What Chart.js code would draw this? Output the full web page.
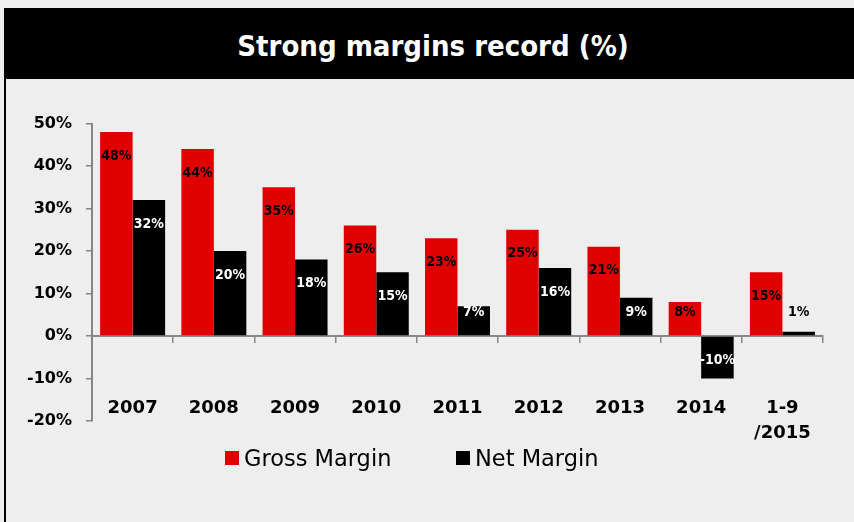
<!DOCTYPE html>
<html>
<head>
<meta charset="utf-8">
<script src="https://cdn.jsdelivr.net/npm/chart.js@4.4.0/dist/chart.umd.min.js"></script>
<style>
  html, body { margin: 0; padding: 0; }
  body {
    width: 854px; height: 522px; background: #eeeeee;
    position: relative; overflow: hidden;
    font-family: "DejaVu Sans", sans-serif;
  }
  #banner {
    position: absolute; left: 4px; top: 8px; right: 0; height: 71px;
    background: #000; color: #fff; text-align: center;
    font-family: "DejaVu Sans Condensed", "DejaVu Sans", sans-serif;
    font-weight: bold; font-size: 29px; line-height: 77px;
    padding-left: 8px; box-sizing: border-box;
  }
  #edge { position: absolute; left: 4px; top: 79px; width: 2px; bottom: 0; background: #000; }
  #wrap { position: absolute; left: 0; top: 80px; width: 854px; height: 442px; }
  #legend {
    position: absolute; left: 225px; top: 445px; display: flex;
    font-size: 22.5px; line-height: 26px; color: #000;
  }
  #legend .item { display: flex; align-items: center; }
  #legend .item:first-child { width: 231px; }
  #legend .sw { width: 14px; height: 14px; margin-right: 5px; }
</style>
</head>
<body>
<div id="banner">Strong margins record (%)</div>
<div id="edge"></div>
<div id="wrap"><canvas id="chart"></canvas></div>
<div id="legend"></div>
<script>
const categories = ['2007', '2008', '2009', '2010', '2011', '2012', '2013', '2014', ['1-9', '/2015']];
const grossMargin = [48, 44, 35, 26, 23, 25, 21, 8, 15];
const netMargin = [32, 20, 18, 15, 7, 16, 9, -10, 1];
const seriesNames = ['Gross Margin', 'Net Margin'];
const seriesColors = ['#e10000', '#000000'];
const axisGray = '#868686';

// legend under the chart
const legendEl = document.getElementById('legend');
seriesNames.forEach((name, i) => {
  const item = document.createElement('div');
  item.className = 'item';
  item.innerHTML = '<span class="sw" style="background:' + seriesColors[i] + '"></span><span>' + name + '</span>';
  legendEl.appendChild(item);
});

// value labels inside the bars
const barLabels = {
  id: 'barLabels',
  afterDatasetsDraw(chart) {
    const ctx = chart.ctx;
    const zero = chart.scales.y.getPixelForValue(0);
    ctx.save();
    ctx.font = 'bold 14px "DejaVu Sans Condensed", "DejaVu Sans"';
    ctx.textAlign = 'center';
    ctx.textBaseline = 'middle';
    chart.data.datasets.forEach((ds, i) => {
      chart.getDatasetMeta(i).data.forEach((bar, j) => {
        const v = ds.data[j];
        let y;
        if (v >= 0) y = Math.min(bar.y + 24, zero - 24);
        else y = zero + 24;
        const inside = v >= 0 ? y > bar.y : y < bar.y;
        ctx.fillStyle = (i === 1 && inside) ? '#ffffff' : '#000000';
        ctx.fillText(v + '%', bar.x, y);
      });
    });
    ctx.restore();
  }
};

const boldFont = size => ({ family: 'DejaVu Sans', size: size, weight: 'bold', lineHeight: 1.4 });

new Chart(document.getElementById('chart'), {
  type: 'bar',
  data: {
    labels: categories,
    datasets: [
      { label: seriesNames[0], data: grossMargin, backgroundColor: seriesColors[0], categoryPercentage: 0.8, barPercentage: 1.0 },
      { label: seriesNames[1], data: netMargin, backgroundColor: seriesColors[1], categoryPercentage: 0.8, barPercentage: 1.0 }
    ]
  },
  options: {
    responsive: true,
    maintainAspectRatio: false,
    animation: false,
    layout: { padding: { top: 43.5, right: 31, left: 0, bottom: 101 } },
    plugins: {
      legend: { display: false },
      tooltip: { enabled: false }
    },
    scales: {
      x: {
        offset: true,
        position: { y: 0 },
        z: 1,
        grid: { offset: true, drawOnChartArea: false, tickLength: 6, color: axisGray, lineWidth: 1.5 },
        border: { color: axisGray, width: 2 },
        ticks: { color: '#000', font: boldFont(18), padding: 54, maxRotation: 0, autoSkip: false },
        afterFit: s => { s.paddingLeft = 0; s.paddingRight = 0; }
      },
      y: {
        min: -20,
        max: 50,
        ticks: {
          stepSize: 10,
          callback: v => v + '%',
          color: '#000',
          font: boldFont(16),
          padding: 14
        },
        grid: { drawOnChartArea: false, tickLength: 6, color: axisGray, lineWidth: 1.5 },
        border: { color: axisGray, width: 2 },
        afterFit: s => { s.width = 92; }
      }
    }
  },
  plugins: [barLabels]
});
</script>
</body>
</html>
